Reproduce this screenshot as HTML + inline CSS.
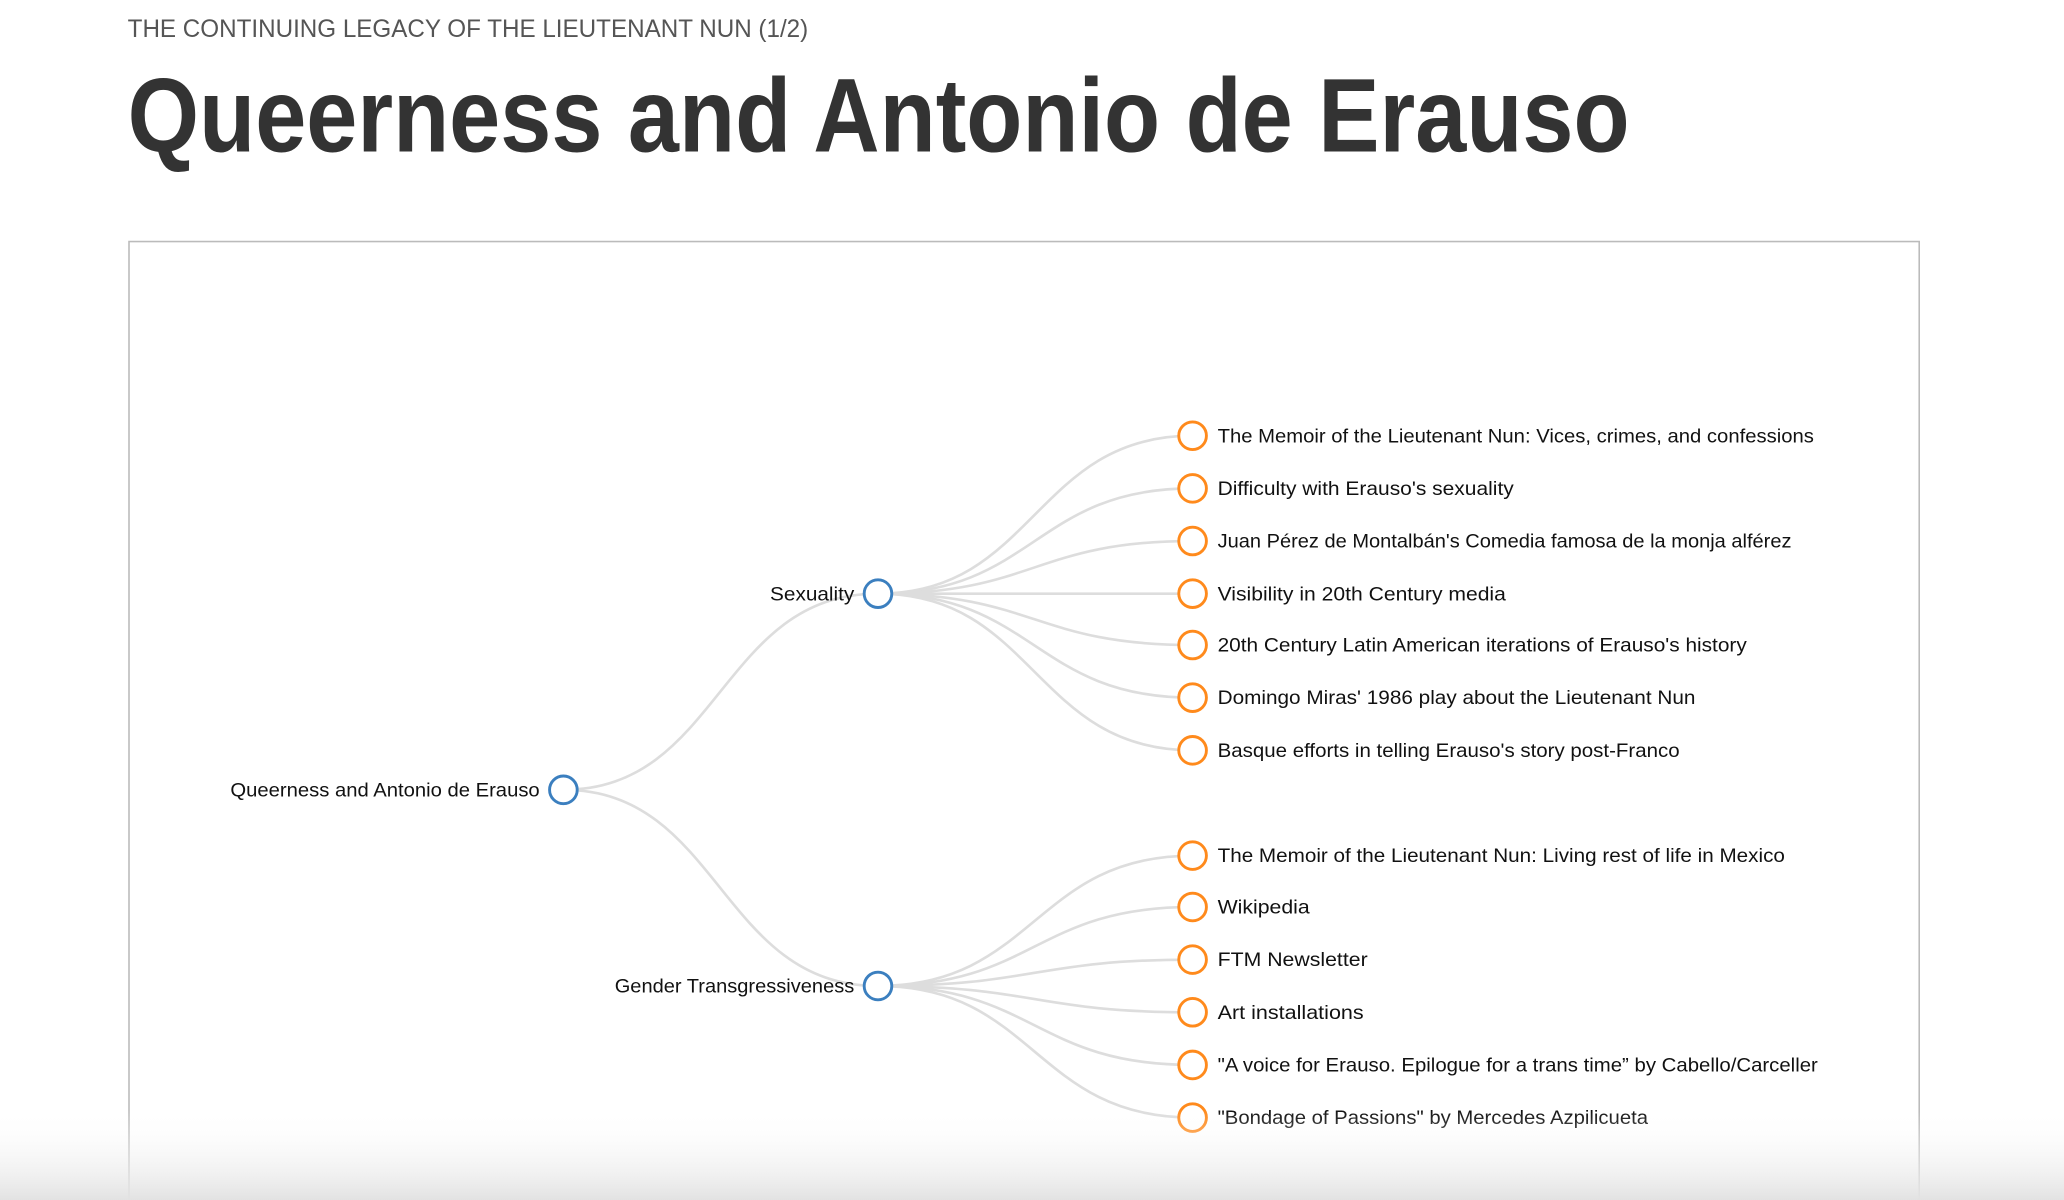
<!DOCTYPE html>
<html><head><meta charset="utf-8"><style>
html,body{margin:0;padding:0;background:#fff;width:2064px;height:1200px;overflow:hidden}
svg{display:block}
text{font-family:"Liberation Sans",sans-serif}
.l{font-size:15px;fill:#111}
.lk{fill:none;stroke:#ddd;stroke-width:2}
.b{fill:#fff;stroke:#3b7fbf;stroke-width:2.2}
.o{fill:#fff;stroke:#ff8a1c;stroke-width:2.2}
</style></head><body>
<svg width="2064" height="1200" viewBox="0 0 1568 911.6" preserveAspectRatio="none">
<defs><linearGradient id="g" x1="0" y1="0" x2="0" y2="1"><stop offset="0" stop-color="#fff" stop-opacity="0"/><stop offset="1" stop-color="#e2e2e2"/></linearGradient></defs>
<text x="97" y="28" font-size="19" fill="#555" textLength="517" lengthAdjust="spacingAndGlyphs">THE CONTINUING LEGACY OF THE LIEUTENANT NUN (1/2)</text>
<text x="97" y="115" font-size="80" font-weight="bold" fill="#333" textLength="1141" lengthAdjust="spacingAndGlyphs">Queerness and Antonio de Erauso</text>
<rect x="98" y="183.5" width="1360" height="740" fill="#fff" stroke="#bbb" stroke-width="1.2"/>
<g class="lk">
<path d="M428,600C547,600 547,451 667,451"/>
<path d="M428,600C547,600 547,749 667,749"/>
<path d="M667,451C786,451 786,331 906,331"/>
<path d="M667,451C786,451 786,371 906,371"/>
<path d="M667,451C786,451 786,411 906,411"/>
<path d="M667,451C786,451 786,451 906,451"/>
<path d="M667,451C786,451 786,490 906,490"/>
<path d="M667,451C786,451 786,530 906,530"/>
<path d="M667,451C786,451 786,570 906,570"/>
<path d="M667,749C786,749 786,650 906,650"/>
<path d="M667,749C786,749 786,689 906,689"/>
<path d="M667,749C786,749 786,729 906,729"/>
<path d="M667,749C786,749 786,769 906,769"/>
<path d="M667,749C786,749 786,809 906,809"/>
<path d="M667,749C786,749 786,849 906,849"/>
</g>
<circle class="b" cx="428" cy="600" r="10.5"/>
<circle class="b" cx="667" cy="451" r="10.5"/>
<circle class="b" cx="667" cy="749" r="10.5"/>
<g>
<circle class="o" cx="906" cy="331" r="10.5"/><circle class="o" cx="906" cy="371" r="10.5"/><circle class="o" cx="906" cy="411" r="10.5"/><circle class="o" cx="906" cy="451" r="10.5"/><circle class="o" cx="906" cy="490" r="10.5"/><circle class="o" cx="906" cy="530" r="10.5"/><circle class="o" cx="906" cy="570" r="10.5"/>
<circle class="o" cx="906" cy="650" r="10.5"/><circle class="o" cx="906" cy="689" r="10.5"/><circle class="o" cx="906" cy="729" r="10.5"/><circle class="o" cx="906" cy="769" r="10.5"/><circle class="o" cx="906" cy="809" r="10.5"/><circle class="o" cx="906" cy="849" r="10.5"/>
</g>
<text class="l" x="175" y="605" textLength="235" lengthAdjust="spacingAndGlyphs">Queerness and Antonio de Erauso</text>
<text class="l" x="585" y="456" textLength="64" lengthAdjust="spacingAndGlyphs">Sexuality</text>
<text class="l" x="467" y="754" textLength="182" lengthAdjust="spacingAndGlyphs">Gender Transgressiveness</text>
<text class="l" x="925" y="336" textLength="453" lengthAdjust="spacingAndGlyphs">The Memoir of the Lieutenant Nun: Vices, crimes, and confessions</text>
<text class="l" x="925" y="376" textLength="225" lengthAdjust="spacingAndGlyphs">Difficulty with Erauso's sexuality</text>
<text class="l" x="925" y="416" textLength="436" lengthAdjust="spacingAndGlyphs">Juan Pérez de Montalbán's Comedia famosa de la monja alférez</text>
<text class="l" x="925" y="456" textLength="219" lengthAdjust="spacingAndGlyphs">Visibility in 20th Century media</text>
<text class="l" x="925" y="495" textLength="402" lengthAdjust="spacingAndGlyphs">20th Century Latin American iterations of Erauso's history</text>
<text class="l" x="925" y="535" textLength="363" lengthAdjust="spacingAndGlyphs">Domingo Miras' 1986 play about the Lieutenant Nun</text>
<text class="l" x="925" y="575" textLength="351" lengthAdjust="spacingAndGlyphs">Basque efforts in telling Erauso's story post-Franco</text>
<text class="l" x="925" y="655" textLength="431" lengthAdjust="spacingAndGlyphs">The Memoir of the Lieutenant Nun: Living rest of life in Mexico</text>
<text class="l" x="925" y="694" textLength="70" lengthAdjust="spacingAndGlyphs">Wikipedia</text>
<text class="l" x="925" y="734" textLength="114" lengthAdjust="spacingAndGlyphs">FTM Newsletter</text>
<text class="l" x="925" y="774" textLength="111" lengthAdjust="spacingAndGlyphs">Art installations</text>
<text class="l" x="925" y="814" textLength="456" lengthAdjust="spacingAndGlyphs">"A voice for Erauso. Epilogue for a trans time” by Cabello/Carceller</text>
<text class="l" x="925" y="854" textLength="327" lengthAdjust="spacingAndGlyphs">"Bondage of Passions" by Mercedes Azpilicueta</text>
<rect x="0" y="843" width="1568" height="69" fill="url(#g)"/>
</svg>
</body></html>
